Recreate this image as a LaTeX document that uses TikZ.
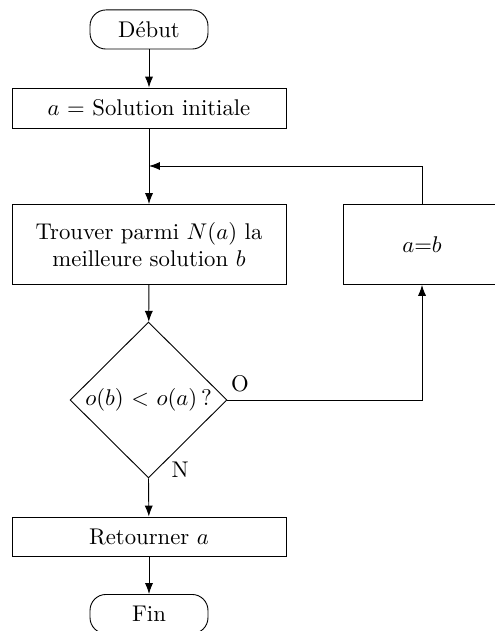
\documentclass[tikz,border=0pt]{standalone}
\usepackage{amsmath}
\usepackage{tikz}
\usetikzlibrary{positioning,arrows.meta,shapes.geometric}

\tikzset{
  term/.style={draw, rounded corners=7pt, minimum width=51.9pt, minimum height=17.2pt, inner sep=2pt},
  stepbox/.style={draw, minimum width=120.6pt, minimum height=17.6pt, inner sep=2pt, align=center},
  testbox/.style={draw, diamond, aspect=1, minimum width=69pt, minimum height=68.6pt, inner sep=0pt},
  lbl/.style={inner sep=0pt}
}

\begin{document}
\begin{tikzpicture}[x=0.44pt, y=-0.44pt, font=\normalsize]
\useasboundingbox (0,0) rectangle (494,631);
% main column
\node[term] (debut) at (149,29.5) {Début};
\node[stepbox] (init) at (149,108) {$a$ = Solution initiale};
\coordinate (merge) at (149,166);
\node[stepbox, minimum height=35.2pt] (trouver) at (149,244.5)
  {Trouver parmi $N(a)$ la\\meilleure solution $b$};
\node[testbox] (test) at (148.5,400) {$o(b)$ < $o(a)$\,?};
\node[stepbox, minimum height=17.2pt] (ret) at (149,536.5) {Retourner $a$};
\node[term] (fin) at (149,614) {Fin};
% update box on the right
\node[stepbox, minimum width=69.5pt, minimum height=35.2pt] (ab) at (422,244.5) {$a$=$b$};
% connectors
\draw[-{Latex}] (debut) -- (init);
\draw[-{Latex}] (init) -- (trouver);
\draw[-{Latex}] (trouver) -- (test);
\draw[-{Latex}] (test.east) -| node[lbl, pos=0, anchor=south west, xshift=1.5pt, yshift=3.5pt] {O} (ab.south);
\draw[-{Latex}] (ab.north) |- (merge);
\draw[-{Latex}] (test.south) -- node[lbl, pos=0, anchor=south west, xshift=10pt] {N} (ret);
\draw[-{Latex}] (ret) -- (fin);
\end{tikzpicture}
\end{document}
